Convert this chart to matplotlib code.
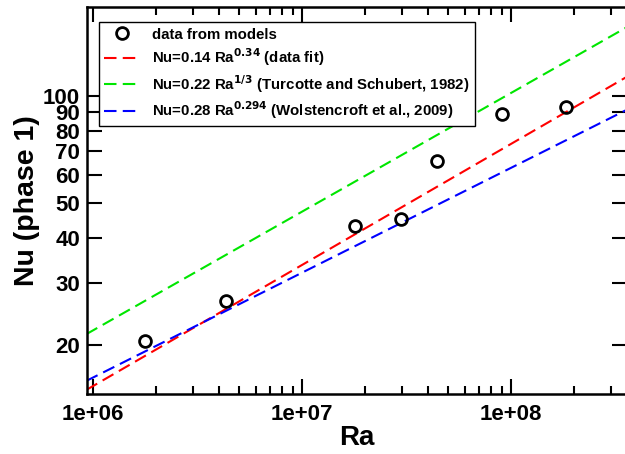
import matplotlib
matplotlib.use("Agg")
import matplotlib.pyplot as plt
from matplotlib.ticker import FixedLocator, FixedFormatter, NullFormatter, LogLocator

plt.rcParams['font.family'] = ['Liberation Sans', 'DejaVu Sans']
plt.rcParams['font.weight'] = 'bold'

# data
ra_models = [1.77e6, 4.33e6, 1.78e7, 2.97e7, 4.39e7, 9.0e7, 1.82e8]
nu_models = [20.6, 26.7, 43.2, 45.3, 65.6, 88.9, 93.2]

# end points of the three power-law lines (straight in log-log)
ra_line = [9.3e5, 3.6e8]
nu_fit = [15.0, 113.6]
nu_turcotte = [21.5, 156.5]
nu_wolsten = [15.9, 91.8]

yticks = [20, 30, 40, 50, 60, 70, 80, 90, 100]
xticks = [1e6, 1e7, 1e8]
xlabels = ['1e+06', '1e+07', '1e+08']

fig = plt.figure(figsize=(6.25, 4.54), dpi=100)
ax = fig.add_axes([0.139, 0.132, 0.864, 0.853])

dash = (6, 3)
ax.plot(ra_models, nu_models, 'o', ms=8.5, mfc='none', mec='black', mew=2,
        label='data from models', zorder=5)
ax.plot(ra_line, nu_fit, color='#ff0000', lw=1.5, dashes=dash,
        label=r'Nu=0.14 Ra$^{\mathbf{0.34}}$ (data fit)')
ax.plot(ra_line, nu_turcotte, color='#00e600', lw=1.5, dashes=dash,
        label=r'Nu=0.22 Ra$^{\mathbf{1/3}}$ (Turcotte and Schubert, 1982)')
ax.plot(ra_line, nu_wolsten, color='#0000ff', lw=1.5, dashes=dash,
        label=r'Nu=0.28 Ra$^{\mathbf{0.294}}$ (Wolstencroft et al., 2009)')

ax.set_xscale('log')
ax.set_yscale('log')
ax.set_xlim(9.35e5, 3.57e8)
ax.set_ylim(14.6, 178)

ax.xaxis.set_major_locator(FixedLocator(xticks))
ax.xaxis.set_major_formatter(FixedFormatter(xlabels))
ax.xaxis.set_minor_locator(LogLocator(base=10, subs=range(2, 10)))
ax.xaxis.set_minor_formatter(NullFormatter())
ax.yaxis.set_major_locator(FixedLocator(yticks))
ax.yaxis.set_major_formatter(FixedFormatter([str(v) for v in yticks]))
ax.yaxis.set_minor_locator(FixedLocator([]))

ax.tick_params(which='both', direction='in', top=True, right=True, width=1.5)
ax.tick_params(which='major', length=11, labelsize=16)
ax.tick_params(axis='x', which='major', pad=7)
ax.tick_params(axis='y', which='major', pad=5)
ax.tick_params(which='minor', length=6)
for lab in ax.get_xticklabels() + ax.get_yticklabels():
    lab.set_fontweight('bold')
for sp in ax.spines.values():
    sp.set_linewidth(1.8)

ax.set_xlabel('Ra', fontsize=20, fontweight='bold', labelpad=0)
ax.set_ylabel('Nu (phase 1)', fontsize=20.5, fontweight='bold', labelpad=2)

leg = ax.legend(loc='upper left', bbox_to_anchor=(0.022, 0.96), fontsize=10.8,
                frameon=True, fancybox=False, edgecolor='black', framealpha=1,
                handlelength=2.4, handletextpad=0.8, borderpad=0.35,
                labelspacing=0.32, borderaxespad=0)
leg.get_frame().set_linewidth(1.0)
for t in leg.get_texts():
    t.set_fontweight('bold')

fig.savefig('out.png', dpi=100)
